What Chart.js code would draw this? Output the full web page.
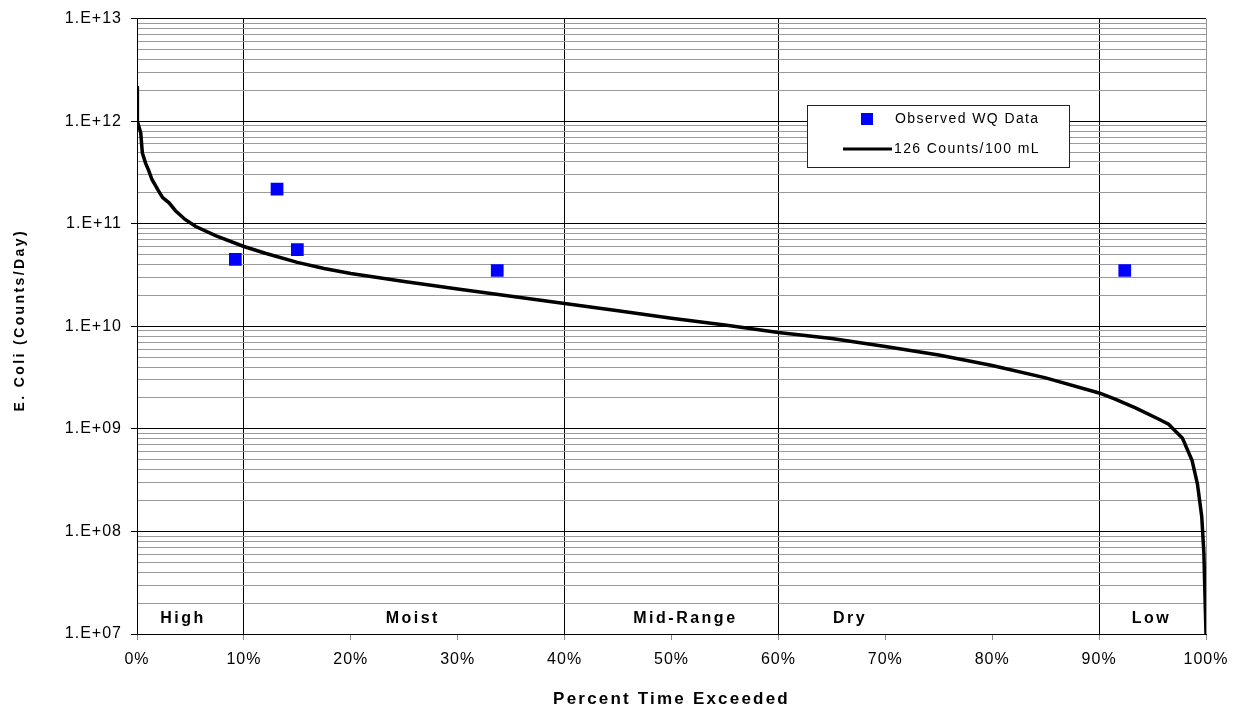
<!DOCTYPE html>
<html>
<head>
<meta charset="utf-8">
<title>E. Coli load duration curve</title>
<script src="https://cdn.jsdelivr.net/npm/chart.js@4.4.1/dist/chart.umd.min.js"></script>
<style>
  html, body { margin: 0; padding: 0; background: #fff; }
  #wrap { width: 1238px; height: 712px; }
</style>
</head>
<body>
<div id="wrap"><canvas id="ldc" width="1238" height="712"></canvas></div>
<script>
// Load duration curve: 126 counts/100 mL target line + observed WQ samples.
// Values read off the reference picture.

const flowPct = [0, 0.02, 0.05, 0.35, 0.5, 0.8, 1.1, 1.4, 2.0, 2.4, 3.0, 3.6, 4.5, 5.5, 7.4, 10,
  12, 15, 17.5, 20, 25, 30, 35, 40, 45, 50, 55, 60, 65, 70, 75, 80, 85, 90,
  91.5, 93.4, 95.6, 96.5, 97.8, 98.7, 99.2, 99.6, 99.8, 100];
const flowLoad = [2.2e12, 1.25e12, 1.0e12, 7.7e11, 4.9e11, 3.9e11, 3.3e11, 2.7e11, 2.1e11, 1.8e11, 1.6e11, 1.34e11, 1.1e11, 9.4e10, 7.6e10, 6.0e10,
  5.16e10, 4.2e10, 3.66e10, 3.27e10, 2.74e10, 2.31e10, 1.96e10, 1.67e10, 1.42e10, 1.2e10, 1.03e10, 8.7e9, 7.59e9, 6.34e9, 5.25e9, 4.15e9, 3.14e9, 2.24e9,
  1.95e9, 1.6e9, 1.24e9, 1.11e9, 8.1e8, 4.9e8, 2.9e8, 1.4e8, 6.2e7, 1.0e7];

const obsPct = [9.2, 13.1, 15.0, 33.7, 92.4];
const obsLoad = [4.5e10, 2.17e11, 5.6e10, 3.5e10, 3.5e10];

const zoneNames = ["High", "Moist", "Mid-Range", "Dry", "Low"];
const zoneLabelPct = [4.3, 25.8, 51.3, 66.7, 94.9];
const zoneBreaks = [10, 40, 60, 90];

const yExpMin = 7, yExpMax = 13;
const yTickVals = [];
for (let e = yExpMin; e < yExpMax; e++) {
  for (let m = 1; m <= 9; m++) yTickVals.push(m * Math.pow(10, e));
}
yTickVals.push(Math.pow(10, yExpMax));

function isDecade(v) {
  const l = Math.log10(v);
  return Math.abs(l - Math.round(l)) < 1e-9;
}

const FONT = "'Liberation Sans', Arial, sans-serif";

// draws the spaced-out texts (titles, zone names) and the boxed legend
const extras = {
  id: "extras",
  beforeDraw(chart) {
    chart.ctx.letterSpacing = "1px";
  },
  afterDraw(chart) {
    const { ctx, chartArea: a, scales } = chart;
    ctx.save();
    ctx.fillStyle = "#000";

    // zone names along the bottom
    ctx.font = "bold 16px " + FONT;
    ctx.letterSpacing = "2.5px";
    ctx.textAlign = "center";
    ctx.textBaseline = "middle";
    zoneNames.forEach((n, i) => {
      ctx.fillText(n, scales.x.getPixelForValue(zoneLabelPct[i]), a.bottom - 15);
    });

    // axis titles
    ctx.font = "bold 17px " + FONT;
    ctx.letterSpacing = "2.2px";
    ctx.fillText("Percent Time Exceeded", (a.left + a.right) / 2, 699);

    ctx.save();
    ctx.translate(20, (a.top + a.bottom) / 2 - 6);
    ctx.rotate(-Math.PI / 2);
    ctx.font = "bold 14px " + FONT;
    ctx.letterSpacing = "2.4px";
    ctx.fillText("E. Coli (Counts/Day)", 0, 0);
    ctx.restore();

    // legend box
    const ds = chart.data.datasets;
    ctx.fillStyle = "#fff";
    ctx.fillRect(807, 105, 262, 62);
    ctx.strokeStyle = "#222";
    ctx.lineWidth = 1;
    ctx.strokeRect(807.5, 105.5, 262, 62);

    ctx.fillStyle = "#0000ff";
    ctx.fillRect(861, 113, 12, 12);
    ctx.strokeStyle = "#000";
    ctx.lineWidth = 3;
    ctx.beginPath();
    ctx.moveTo(843, 149);
    ctx.lineTo(892, 149);
    ctx.stroke();

    ctx.fillStyle = "#000";
    ctx.font = "14px " + FONT;
    ctx.letterSpacing = "1.4px";
    ctx.textAlign = "left";
    ctx.fillText(ds[0].label, 895, 119);
    ctx.fillText(ds[1].label, 894, 149);
    ctx.restore();
  }
};

new Chart(document.getElementById("ldc"), {
  type: "scatter",
  data: {
    datasets: [
      {
        label: "Observed WQ Data",
        data: obsPct.map((x, i) => ({ x, y: obsLoad[i] })),
        pointStyle: "rect",
        pointRadius: 9,
        pointHoverRadius: 9,
        backgroundColor: "#0000ff",
        borderColor: "#0000ff",
        borderWidth: 0,
        showLine: false,
        order: 0
      },
      {
        label: "126 Counts/100 mL",
        data: flowPct.map((x, i) => ({ x, y: flowLoad[i] })),
        showLine: true,
        borderColor: "#000",
        borderWidth: 3.5,
        pointRadius: 0,
        tension: 0,
        fill: false,
        order: 1
      }
    ]
  },
  options: {
    responsive: false,
    animation: false,
    layout: { padding: { top: 15, right: 32, left: 0, bottom: 0 } },
    plugins: {
      legend: { display: false },
      tooltip: { enabled: false }
    },
    scales: {
      x: {
        type: "linear",
        min: 0,
        max: 100,
        afterFit(s) { s.height = 78; },
        border: { color: "#000", width: 1 },
        grid: {
          color(c) {
            const v = c.tick && c.tick.value;
            if (zoneBreaks.includes(v)) return "#000";
            if (v === 100) return "#999";
            return "rgba(0,0,0,0)";
          },
          tickColor: "#888",
          tickLength: 6,
          lineWidth: 1
        },
        ticks: {
          stepSize: 10,
          autoSkip: false,
          maxRotation: 0,
          padding: 10,
          color: "#000",
          font: { family: FONT, size: 16 },
          callback: v => v + "%"
        }
      },
      y: {
        type: "logarithmic",
        min: Math.pow(10, yExpMin),
        max: Math.pow(10, yExpMax),
        afterFit(s) { s.width = 137; },
        afterBuildTicks(s) {
          s.ticks = yTickVals.map(v => ({ value: v, major: isDecade(v) }));
        },
        border: { color: "#000", width: 1 },
        grid: {
          color: c => (c.tick && isDecade(c.tick.value)) ? "#000" : "#9a9a9a",
          tickColor: c => (c.tick && isDecade(c.tick.value)) ? "#000" : "rgba(0,0,0,0)",
          tickLength: 6,
          lineWidth: 1
        },
        ticks: {
          autoSkip: false,
          padding: 9,
          color: "#000",
          font: { family: FONT, size: 16 },
          callback: v => isDecade(v) ? "1.E+" + String(Math.round(Math.log10(v))).padStart(2, "0") : ""
        }
      }
    }
  },
  plugins: [extras]
});
</script>
</body>
</html>
